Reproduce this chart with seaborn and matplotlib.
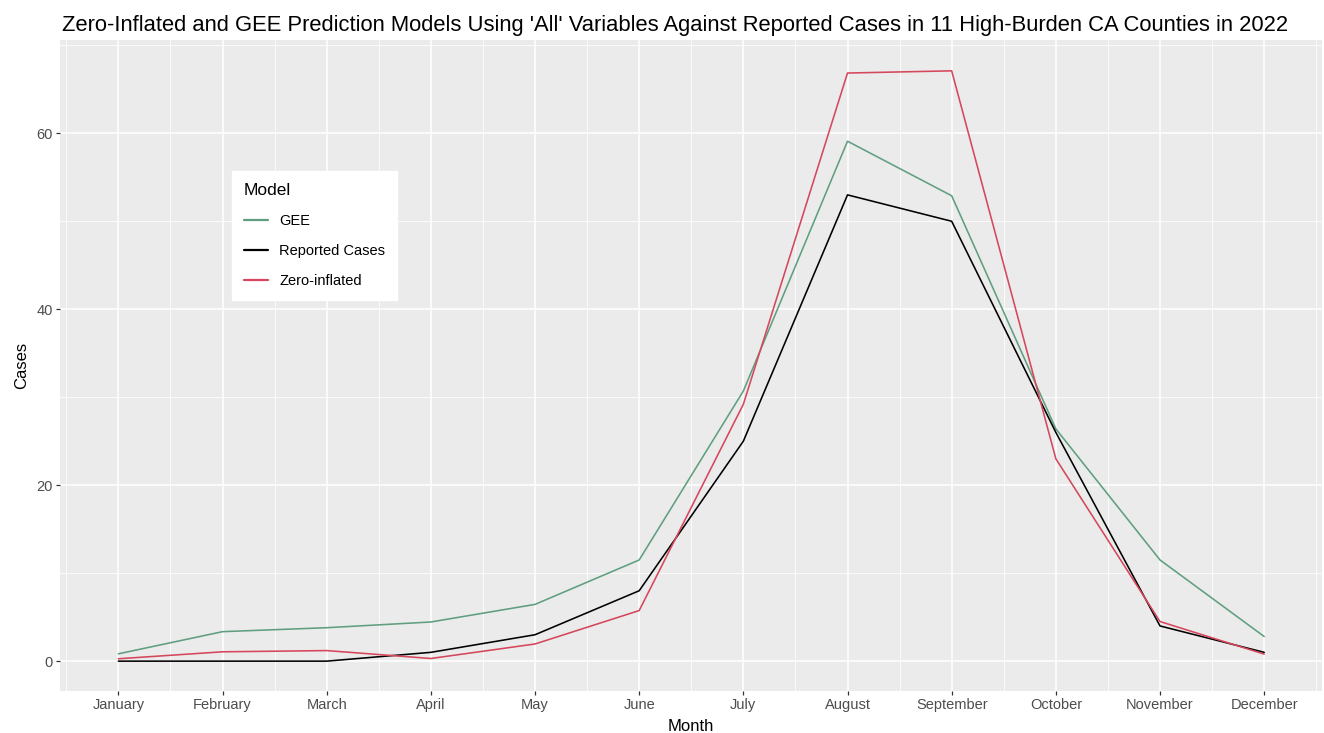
import numpy as np
import pandas as pd
import matplotlib
matplotlib.use("Agg")
import matplotlib.pyplot as plt
import seaborn as sns
from matplotlib.ticker import MultipleLocator

months = ["January", "February", "March", "April", "May", "June",
          "July", "August", "September", "October", "November", "December"]
reported = [0, 0, 0, 1, 3, 8, 25, 53, 50, 26, 4, 1]
gee = [0.83, 3.35, 3.8, 4.45, 6.45, 11.5, 30.7, 59.1, 52.9, 26.4, 11.5, 2.8]
zero_infl = [0.27, 1.06, 1.2, 0.3, 1.95, 5.75, 29.2, 66.85, 67.1, 23.0, 4.5, 0.8]
models = ["GEE", "Reported Cases", "Zero-inflated"]
colors = {"GEE": "#5f9f7f", "Reported Cases": "#000000", "Zero-inflated": "#d5475c"}

df = pd.DataFrame({
    "Month": months * 3,
    "Cases": gee + reported + zero_infl,
    "Model": ["GEE"] * 12 + ["Reported Cases"] * 12 + ["Zero-inflated"] * 12,
})
df["x"] = df["Month"].map({m: i for i, m in enumerate(months)})

sns.set_theme(style="darkgrid", rc={
    "axes.facecolor": "#EBEBEB",
    "grid.color": "white",
    "axes.edgecolor": "white",
    "text.color": "black",
})
plt.rcParams["font.family"] = ["Liberation Sans", "DejaVu Sans"]

fig = plt.figure(figsize=(13.24, 7.33), dpi=100)
# panel placed like the ggplot original
ax = fig.add_axes([60 / 1324, 1 - 690.7 / 733, 1262 / 1324, 650.3 / 733])

sns.lineplot(data=df, x="x", y="Cases", hue="Model", hue_order=models,
             palette=colors, linewidth=1.15, ax=ax, sort=False)

ax.set_xlim(-0.56, 11.555)
ax.set_ylim(-3.36, 70.56)
ax.set_xticks(range(12))
ax.set_xticklabels(months)
ax.xaxis.set_minor_locator(MultipleLocator(1, offset=0.5))
ax.yaxis.set_major_locator(MultipleLocator(20))
ax.yaxis.set_minor_locator(MultipleLocator(10))
ax.grid(which="major", color="white", linewidth=1.1)
ax.grid(which="minor", color="white", linewidth=0.55)
ax.set_axisbelow(True)
for s in ax.spines.values():
    s.set_visible(False)
ax.tick_params(axis="both", which="major", length=2.6, width=0.9, color="#333333",
               labelsize=10.5, labelcolor="#4D4D4D", pad=2.5, bottom=True, left=True)
ax.tick_params(which="minor", length=0)

ax.set_xlabel("Month", fontsize=12, color="black", labelpad=5)
ax.set_ylabel("Cases", fontsize=12, color="black", labelpad=5)
fig.text(62 / 1324, 1 - 25 / 733, "Zero-Inflated and GEE Prediction Models Using 'All' Variables Against Reported Cases in 11 High-Burden CA Counties in 2022",
         fontsize=15.8, ha="left", va="center", color="black")

leg = ax.legend(title="Model", loc="upper left", bbox_to_anchor=(172 / 1262, 1 - 131 / 650.3),
                borderaxespad=0, frameon=True, fancybox=False, fontsize=10.5,
                title_fontsize=12.5, handlelength=1.65, handletextpad=0.8,
                labelspacing=1.1, borderpad=0.8, framealpha=1)
leg.get_frame().set_facecolor("white")
leg.get_frame().set_edgecolor("white")
leg._legend_box.align = "left"
leg.get_title().set_color("black")
for t in leg.get_texts():
    t.set_color("black")
for line in leg.get_lines():
    line.set_linewidth(1.6)

fig.savefig("out.png", dpi=100)
